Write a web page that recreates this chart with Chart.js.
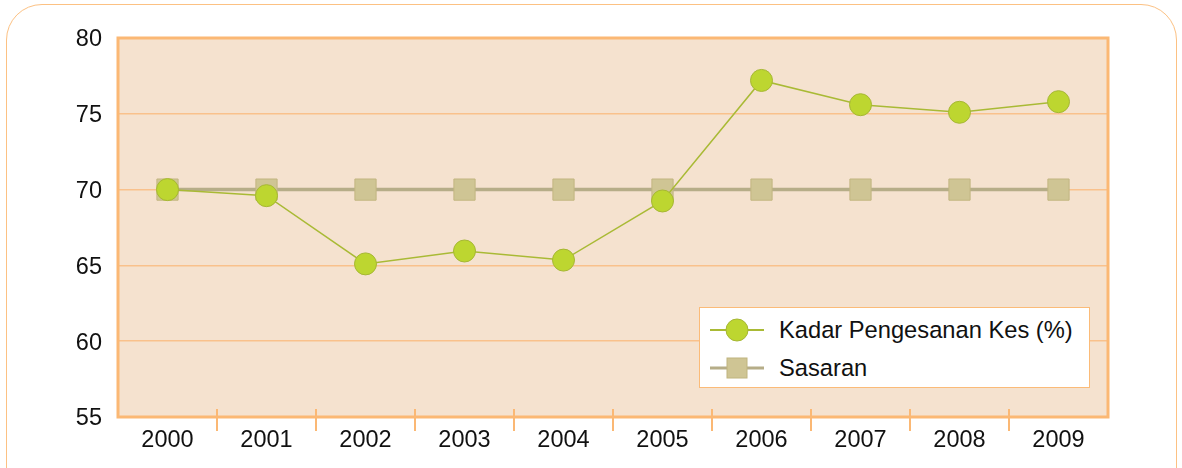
<!DOCTYPE html>
<html>
<head>
<meta charset="utf-8">
<script src="https://cdn.jsdelivr.net/npm/chart.js@4"></script>
<style>
  body { margin: 0; background: #fff; font-family: "Liberation Sans", Arial, sans-serif; }
  #wrap { position: relative; width: 1182px; height: 468px; overflow: hidden; }
  #frame { position: absolute; left: 6px; top: 4px; width: 1171px; height: 520px;
           border: 1.5px solid #fcc183; border-radius: 36px; box-sizing: border-box; }
  #chart { position: absolute; left: 0; top: 0; }
  #legend { position: absolute; left: 699px; top: 307px; width: 391px; height: 81px;
            background: #fff; border: 1.5px solid #fbbb78; box-sizing: border-box; }
  .row { position: absolute; left: 10px; height: 30px; display: flex; align-items: center;
         font-size: 23.7px; color: #111; }
  .row svg { margin-right: 15px; }
</style>
</head>
<body>
<div id="wrap">
  <div id="frame"></div>
  <canvas id="chart" width="1182" height="468"></canvas>
  <div id="legend">
    <div class="row" style="top:7px">
      <svg width="54" height="30"><line x1="0" y1="15" x2="54" y2="15" stroke="#a9ba35" stroke-width="2"/>
        <circle cx="27" cy="15" r="11" fill="#bdd630" stroke="#a6b734" stroke-width="1"/></svg>
      <span>Kadar Pengesanan Kes (%)</span>
    </div>
    <div class="row" style="top:45px">
      <svg width="54" height="30"><line x1="0" y1="15" x2="54" y2="15" stroke="#b6ad88" stroke-width="3"/>
        <rect x="17" y="5" width="20" height="20" fill="#cfc594" stroke="#bfb47f" stroke-width="1"/></svg>
      <span>Sasaran</span>
    </div>
  </div>
</div>
<script>
const years = ["2000", "2001", "2002", "2003", "2004", "2005", "2006", "2007", "2008", "2009"];
const kadar = [70.0, 69.6, 65.1, 65.95, 65.35, 69.25, 77.2, 75.6, 75.1, 75.8];
const sasaran = [70, 70, 70, 70, 70, 70, 70, 70, 70, 70];
const yTicks = [55, 60, 65, 70, 75, 80];

// plot background, frame and the small ticks between categories
const plotDecor = {
  id: "plotDecor",
  beforeDraw(chart) {
    const { ctx, chartArea: a } = chart;
    ctx.save();
    ctx.fillStyle = "#f5e2cf";
    ctx.fillRect(a.left, a.top, a.right - a.left, a.bottom - a.top);
    ctx.restore();
  },
  beforeDatasetsDraw(chart) {
    const { ctx, chartArea: a, scales } = chart;
    ctx.save();
    ctx.strokeStyle = "#fbb874";
    ctx.lineWidth = 3;
    ctx.strokeRect(a.left, a.top, a.right - a.left, a.bottom - a.top);
    ctx.lineWidth = 2;
    for (let i = 1; i < years.length; i++) {
      const x = (scales.x.getPixelForValue(i - 1) + scales.x.getPixelForValue(i)) / 2;
      ctx.beginPath();
      ctx.moveTo(x, a.bottom - 8);
      ctx.lineTo(x, a.bottom + 14);
      ctx.stroke();
    }
    ctx.restore();
  }
};

new Chart(document.getElementById("chart"), {
  type: "line",
  data: {
    labels: years,
    datasets: [
      {
        label: "Kadar Pengesanan Kes (%)",
        data: kadar,
        borderColor: "#a9ba35",
        borderWidth: 1.5,
        pointStyle: "circle",
        pointRadius: 11,
        pointBackgroundColor: "#bdd630",
        pointBorderColor: "#a6b734",
        pointBorderWidth: 1,
        tension: 0
      },
      {
        label: "Sasaran",
        data: sasaran,
        borderColor: "#b6ad88",
        borderWidth: 3.5,
        pointStyle: "rect",
        pointRadius: 15,
        pointBackgroundColor: "#cfc594",
        pointBorderColor: "#c2b680",
        pointBorderWidth: 1,
        tension: 0
      }
    ]
  },
  options: {
    responsive: false,
    animation: false,
    events: [],
    layout: { padding: { left: 0, top: 38, right: 74, bottom: 0 } },
    plugins: { legend: { display: false }, tooltip: { enabled: false } },
    scales: {
      x: {
        offset: true,
        grid: { display: false },
        border: { display: false },
        ticks: { color: "#111", font: { family: "Liberation Sans", size: 23.5 }, padding: 1, maxRotation: 0 },
        afterFit(scale) { scale.height = 51; }
      },
      y: {
        min: 55,
        max: 80,
        afterBuildTicks(scale) { scale.ticks = yTicks.map(v => ({ value: v })); },
        grid: { color: "#f9c18c", lineWidth: 1.5, drawTicks: false },
        border: { display: false },
        ticks: { color: "#111", font: { family: "Liberation Sans", size: 23.5 }, padding: 16, labelOffset: 2 },
        afterFit(scale) { scale.width = 118; }
      }
    }
  },
  plugins: [plotDecor]
});
</script>
</body>
</html>
